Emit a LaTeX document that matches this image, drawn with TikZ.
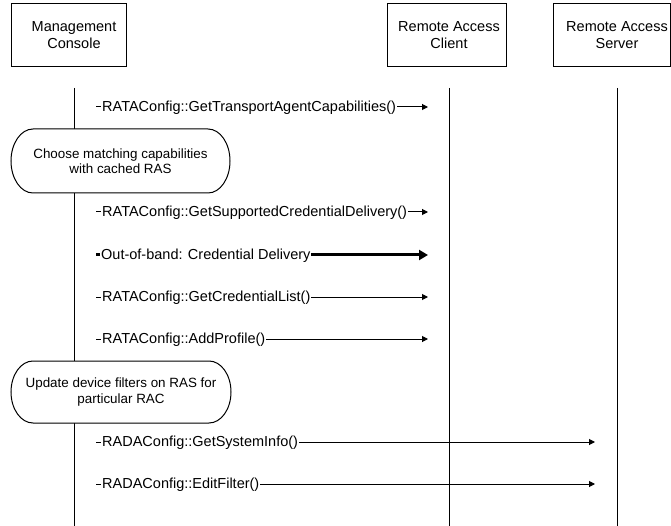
\documentclass[tikz,border=0pt]{standalone}
\usepackage{fontspec}
\setmainfont{Liberation Sans}
\usetikzlibrary{arrows.meta}
\begin{document}
\begin{tikzpicture}[x=1pt,y=-1pt,
  lane/.style={draw=black,line width=1pt},
  headbox/.style={draw=black,line width=1pt,fill=white,minimum height=63pt,inner sep=0pt},
  headtext/.style={align=center,font=\fontsize{14.5}{17}\selectfont,inner sep=0pt},
  notebox/.style={draw=black,line width=1pt,fill=white},
  notetext/.style={align=center,font=\fontsize{13.4}{15.5}\selectfont,inner sep=0pt},
  msg/.style={line width=1pt,-{Triangle[length=6pt,width=6pt]}},
  boldmsg/.style={line width=3pt,-{Triangle[length=9pt,width=10pt]}},
  msglabel/.style={anchor=base west,fill=white,inner xsep=1pt,inner ysep=1pt,font=\fontsize{14.5}{17}\selectfont}
]
\useasboundingbox (0,0) rectangle (671,526);

% header boxes
\node[headbox,minimum width=115pt] (mcbox) at (68.5,35.5) {};
\node[headtext] (mc) at (74,35.5) {Management\\Console};
\node[headbox,minimum width=119pt] (racbox) at (446.5,35.5) {};
\node[headtext] (rac) at (449,35.5) {Remote Access\\Client};
\node[headbox,minimum width=117pt] (rasbox) at (611.5,35.5) {};
\node[headtext] (ras) at (617,35.5) {Remote Access\\Server};

% lifelines
\coordinate (mctop) at (74,88);  \coordinate (mcbot) at (74,526);
\coordinate (ractop) at (449,88); \coordinate (racbot) at (449,526);
\coordinate (rastop) at (617,88); \coordinate (rasbot) at (617,526);
\draw[lane] (mctop) -- (mcbot);
\draw[lane] (ractop) -- (racbot);
\draw[lane] (rastop) -- (rasbot);

% notes
\draw[notebox] (33,129) -- (208,129) arc[start angle=-90,end angle=90,x radius=22,y radius=32]
  -- (33,193) arc[start angle=90,end angle=270,x radius=22,y radius=32] -- cycle;
\node[notetext] (choose) at (120.5,161) {Choose matching capabilities\\with cached RAS};
\draw[notebox] (33,361) -- (209,361) arc[start angle=-90,end angle=90,x radius=22,y radius=31]
  -- (33,423) arc[start angle=90,end angle=270,x radius=22,y radius=31] -- cycle;
\node[notetext] (update) at (121,392) {Update device filters on RAS for\\particular RAC};

% messages
\coordinate (m1s) at (96,107); \coordinate (m1e) at (428,107);
\coordinate (m2s) at (96,212); \coordinate (m2e) at (428,212);
\coordinate (m3s) at (96,255); \coordinate (m3e) at (428,255);
\coordinate (m4s) at (96,297); \coordinate (m4e) at (428,297);
\coordinate (m5s) at (96,339); \coordinate (m5e) at (428,339);
\coordinate (m6s) at (96,442); \coordinate (m6e) at (595,442);
\coordinate (m7s) at (96,484); \coordinate (m7e) at (595,484);

\draw[msg] (m1s) -- (m1e);
\draw[msg] (m2s) -- (m2e);
\draw[boldmsg] (m3s) -- (m3e);
\draw[msg] (m4s) -- (m4e);
\draw[msg] (m5s) -- (m5e);
\draw[msg] (m6s) -- (m6e);
\draw[msg] (m7s) -- (m7e);

\node[msglabel] (l1) at (101,111.5) {RATAConfig::GetTransportAgentCapabilities()};
\node[msglabel] (l2) at (101,216.5) {RATAConfig::GetSupportedCredentialDelivery()};
\node[msglabel] (l3) at (100,259.5) {Out-of-band: Credential Delivery};
\node[msglabel] (l4) at (101,301.5) {RATAConfig::GetCredentialList()};
\node[msglabel] (l5) at (101,343.5) {RATAConfig::AddProfile()};
\node[msglabel] (l6) at (101,446.5) {RADAConfig::GetSystemInfo()};
\node[msglabel] (l7) at (101,488.5) {RADAConfig::EditFilter()};
\end{tikzpicture}
\end{document}
